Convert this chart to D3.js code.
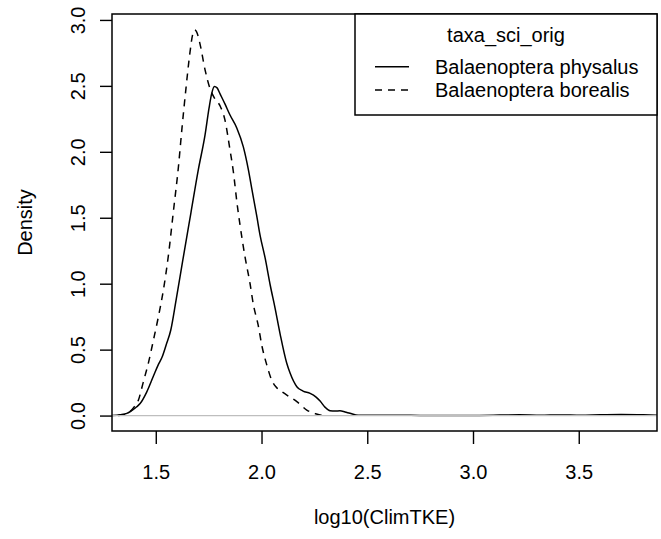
<!DOCTYPE html>
<html><head><meta charset="utf-8">
<script src="https://cdn.jsdelivr.net/npm/d3@7"></script>
<style>
html,body{margin:0;padding:0;background:#fff;}
text{font-family:"Liberation Sans",Arial,Helvetica,sans-serif;}
</style></head>
<body><svg id="chart" width="661" height="539"></svg>
<script>
// Series: Balaenoptera physalus (solid)
const physX = [1.293,1.331,1.363,1.378,1.410,1.426,1.457,1.489,1.511,1.530,1.549,1.571,1.596,1.628,1.666,1.701,1.733,1.752,1.764,1.777,1.790,1.804,1.827,1.851,1.883,1.914,1.938,1.955,1.978,1.993,2.017,2.041,2.064,2.088,2.119,2.135,2.167,2.196,2.230,2.258,2.277,2.300,2.324,2.348,2.371,2.395,2.418,2.457,2.56,2.66,2.75,2.89,3.03,3.22,3.32,3.41,3.51,3.60,3.70,3.79,3.87];
const physY = [0.000,0.007,0.017,0.029,0.067,0.091,0.178,0.300,0.383,0.444,0.535,0.649,0.876,1.180,1.536,1.863,2.128,2.333,2.439,2.495,2.485,2.439,2.363,2.279,2.181,2.037,1.863,1.711,1.508,1.369,1.195,0.990,0.815,0.618,0.398,0.322,0.219,0.186,0.168,0.140,0.110,0.064,0.036,0.034,0.036,0.027,0.017,0.002,0.002,0.003,0.001,0.001,0.001,0.006,0.002,0.005,0.002,0.006,0.008,0.006,0.003];
// Series: Balaenoptera borealis (dashed)
const borX = [1.322,1.341,1.363,1.378,1.397,1.418,1.441,1.465,1.489,1.512,1.536,1.560,1.583,1.607,1.624,1.643,1.662,1.674,1.683,1.693,1.709,1.733,1.757,1.780,1.804,1.827,1.851,1.867,1.884,1.899,1.922,1.946,1.961,1.984,2.003,2.025,2.048,2.069,2.096,2.135,2.167,2.214,2.253,2.277,2.310];
const borY = [0.000,0.004,0.011,0.030,0.064,0.118,0.254,0.398,0.573,0.747,0.952,1.218,1.544,1.885,2.181,2.485,2.758,2.887,2.925,2.910,2.819,2.622,2.477,2.401,2.348,2.242,2.014,1.847,1.612,1.438,1.203,0.998,0.846,0.687,0.520,0.383,0.270,0.216,0.181,0.140,0.106,0.042,0.015,0.004,0.000];

const xTicks = [1.5, 2.0, 2.5, 3.0, 3.5];
const yTicks = [0.0, 0.5, 1.0, 1.5, 2.0, 2.5, 3.0];
const seriesNames = ["Balaenoptera physalus", "Balaenoptera borealis"];
const legendTitle = "taxa_sci_orig";
const xTitle = "log10(ClimTKE)";
const yTitle = "Density";

const svg = d3.select("#chart");
const L = 112, R = 657, T = 14, B = 431;
const FS = 20;
const x = d3.scaleLinear().domain([1.293, 3.870]).range([L, R]);
const y = d3.scaleLinear().domain([-0.117, 3.045]).range([B, T]);
const fmt = d3.format(".1f");

const line = d3.line().x(d => x(d[0])).y(d => y(d[1])).curve(d3.curveMonotoneX);
const phys = physX.map((v, i) => [v, physY[i]]);
const bor = borX.map((v, i) => [v, borY[i]]);

svg.append("clipPath").attr("id", "pc").append("rect")
  .attr("x", L).attr("y", T).attr("width", R - L).attr("height", B - T);
const plot = svg.append("g").attr("clip-path", "url(#pc)");

plot.append("path").attr("d", line(phys)).attr("fill", "none")
  .attr("stroke", "#000").attr("stroke-width", 1.5);
plot.append("path").attr("d", line(bor)).attr("fill", "none")
  .attr("stroke", "#000").attr("stroke-width", 1.5).attr("stroke-dasharray", "7,6");
// horizontal reference line at zero
plot.append("line").attr("x1", L).attr("x2", R).attr("y1", y(0)).attr("y2", y(0))
  .attr("stroke", "#bebebe").attr("stroke-width", 1.3);

// x axis
const xa = svg.append("g").attr("transform", `translate(0,${B})`)
  .call(d3.axisBottom(x).tickValues(xTicks).tickFormat(fmt).tickSize(13).tickPadding(21));
xa.select(".domain").remove();
xa.selectAll(".tick line").attr("stroke", "#000").attr("stroke-width", 1.4);
xa.selectAll(".tick text").attr("font-size", FS).attr("fill", "#000")
  .style("font-family", "'Liberation Sans',Arial,sans-serif");

// y axis
const ya = svg.append("g").attr("transform", `translate(${L},0)`)
  .call(d3.axisLeft(y).tickValues(yTicks).tickFormat(fmt).tickSize(12));
ya.select(".domain").remove();
ya.selectAll(".tick line").attr("stroke", "#000").attr("stroke-width", 1.4);
ya.selectAll(".tick text").attr("font-size", FS).attr("fill", "#000")
  .attr("x", null).attr("dy", null).attr("text-anchor", "middle")
  .attr("transform", "translate(-27,0) rotate(-90)")
  .style("font-family", "'Liberation Sans',Arial,sans-serif");

// box
svg.append("rect").attr("x", L).attr("y", T).attr("width", R - L).attr("height", B - T)
  .attr("fill", "none").attr("stroke", "#000").attr("stroke-width", 1.5);

// titles
svg.append("text").attr("x", (L + R) / 2).attr("y", 524).attr("text-anchor", "middle")
  .attr("font-size", FS).text(xTitle);
svg.append("text").attr("transform", `translate(32,${(T + B) / 2}) rotate(-90)`)
  .attr("text-anchor", "middle").attr("font-size", FS).text(yTitle);

// legend
const lg = svg.append("g");
lg.append("rect").attr("x", 355).attr("y", T).attr("width", R - 355).attr("height", 101)
  .attr("fill", "#fff").attr("stroke", "#000").attr("stroke-width", 1.5);
lg.append("text").attr("x", (355 + R) / 2).attr("y", 42).attr("text-anchor", "middle")
  .attr("font-size", FS).text(legendTitle);
const dashes = [null, "7,6"];
seriesNames.forEach((n, i) => {
  const yy = 66.7 + i * 23.3;
  lg.append("line").attr("x1", 375).attr("x2", 409).attr("y1", yy).attr("y2", yy)
    .attr("stroke", "#000").attr("stroke-width", 1.5).attr("stroke-dasharray", dashes[i]);
  lg.append("text").attr("x", 435).attr("y", yy + 7).attr("font-size", FS).text(n);
});
</script></body></html>
